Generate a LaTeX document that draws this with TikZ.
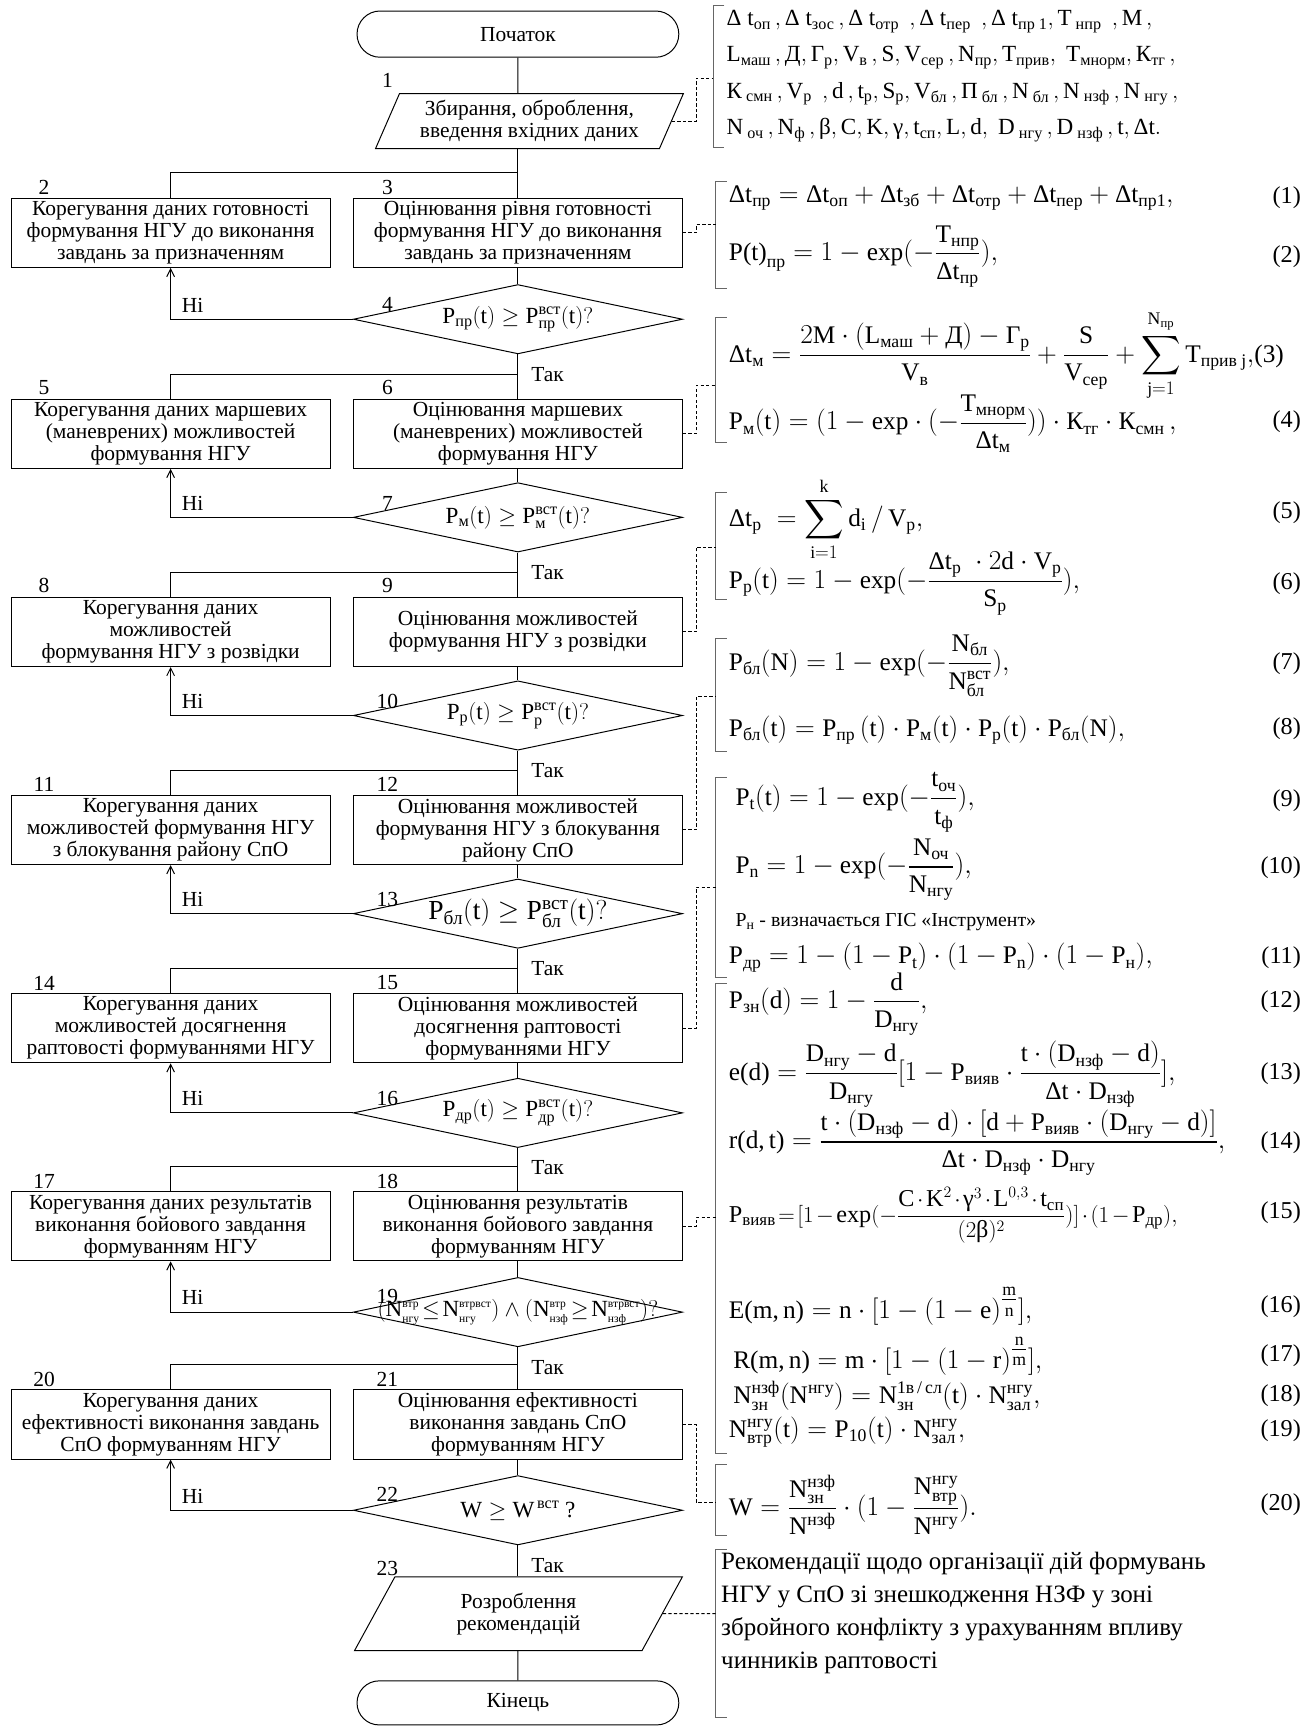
\documentclass[tikz,border=0pt]{standalone}
\usepackage{amsmath}
\usepackage{fontspec}
\setmainfont{Liberation Serif}
\usetikzlibrary{arrows.meta,positioning,calc,shapes.geometric,shapes.misc}
\newcommand{\tm}[1]{\textnormal{#1}}
\newcommand{\sv}[2]{\tm{#1}_{\tm{#2}}}
\newcommand{\ssv}[3]{\tm{#1}^{\tm{#3}}_{\tm{#2}}}
\newcommand{\ssvt}[3]{\tm{#1}^{\scriptscriptstyle\tm{#3}}_{\scriptscriptstyle\tm{#2}}}
\tikzset{
  fcBox/.style={draw, line width=0.9pt, rectangle, minimum width=290pt, minimum height=63pt,
    inner sep=1pt, align=center, font=\fontsize{19.5}{20}\selectfont},
  fcWide/.style={minimum width=299pt},
  fcTerm/.style={draw, line width=0.9pt, rounded rectangle, minimum width=299pt, minimum height=42pt},
  fcIO/.style={draw, line width=0.9pt, trapezium, trapezium left angle=65, trapezium right angle=115,
    trapezium stretches=true, minimum width=280pt, minimum height=50pt, align=center, inner sep=1pt},
  fcDec/.style={draw, line width=0.9pt, diamond, minimum width=299pt, minimum height=63pt, inner sep=0pt},
  fcCond/.style={inner sep=0pt, font=\fontsize{21}{22}\selectfont},
  fcNum/.style={inner sep=0pt},
  fcLbl/.style={inner sep=0pt, anchor=west},
  %% connectors
  fcFlow/.style={line width=0.9pt},
  fcArr/.style={line width=0.9pt, -{Straight Barb[length=7pt,width=7pt]}},
  fcLink/.style={line width=0.9pt, dash pattern=on 3pt off 2pt},
  fcBrk/.style={line width=0.8pt, black!60},
  %% formulas
  fcEq/.style={inner sep=0pt, anchor=west, font=\fontsize{23}{24}\selectfont},
  fcEqNo/.style={inner sep=0pt, anchor=east, font=\fontsize{22}{24}\selectfont},
}
\begin{document}
\begin{tikzpicture}[x=1pt, y=-1pt, font=\fontsize{19.5}{20}\selectfont]
\useasboundingbox (0,0) rectangle (1185,1568);

\node[fcTerm] (start) at (470.5,31) {Початок};
\node[fcIO] (io1) at (481,110) {Збирання, оброблення,\\введення вхідних даних};

\node[fcBox] (l1) at (155,211.5) {Корегування даних готовності\\формування НГУ до виконання\\завдань за призначенням};
\node[fcBox,fcWide] (r1) at (470.5,211.5) {Оцінювання рівня готовності\\формування НГУ до виконання\\завдань за призначенням};
\node[fcDec, label={[fcCond]center:{$\sv{P}{пр}(\tm{t})\geq\ssv{P}{пр}{вст}(\tm{t})?$}}] (d1) at (470.5,290) {};

\node[fcBox] (l2) at (155,394) {Корегування даних маршевих\\(маневрених)  можливостей\\формування НГУ};
\node[fcBox,fcWide] (r2) at (470.5,394) {Оцінювання маршевих\\(маневрених)  можливостей\\формування НГУ};
\node[fcDec, label={[fcCond]center:{$\sv{P}{м}(\tm{t})\geq\ssv{P}{м}{вст}(\tm{t})?$}}] (d2) at (470.5,470) {};

\node[fcBox] (l3) at (155,574) {Корегування даних\\можливостей\\формування НГУ з розвідки};
\node[fcBox,fcWide] (r3) at (470.5,574) {Оцінювання можливостей\\формування НГУ з розвідки};
\node[fcDec, label={[fcCond]center:{$\sv{P}{р}(\tm{t})\geq\ssv{P}{р}{вст}(\tm{t})?$}}] (d3) at (470.5,650) {};

\node[fcBox] (l4) at (155,754) {Корегування даних\\можливостей формування НГУ\\з блокування району СпО};
\node[fcBox,fcWide] (r4) at (470.5,754) {Оцінювання можливостей\\формування НГУ з блокування\\району СпО};
\node[fcDec, label={[fcCond, font=\fontsize{25}{26}\selectfont]center:{$\sv{P}{бл}(\tm{t})\geq\ssv{P}{бл}{вст}(\tm{t})?$}}] (d4) at (470.5,830) {};

\node[fcBox] (l5) at (155,934) {Корегування даних\\можливостей досягнення\\раптовості формуваннями НГУ};
\node[fcBox,fcWide] (r5) at (470.5,934) {Оцінювання можливостей\\досягнення раптовості\\формуваннями НГУ};
\node[fcDec, label={[fcCond]center:{$\sv{P}{др}(\tm{t})\geq\ssv{P}{др}{вст}(\tm{t})?$}}] (d5) at (470.5,1011) {};

\node[fcBox] (l6) at (155,1114) {Корегування даних результатів\\виконання бойового завдання\\формуванням НГУ};
\node[fcBox,fcWide] (r6) at (470.5,1114) {Оцінювання результатів\\виконання бойового завдання\\формуванням НГУ};
\node[fcDec, label={[fcCond, font=\fontsize{21}{22}\selectfont]center:{$(\ssvt{N}{нгу}{втр}\!\leq\!\ssvt{N}{нгу}{втрвст})\wedge(\ssvt{N}{нзф}{втр}\!\geq\!\ssvt{N}{нзф}{втрвст})?$}}] (d6) at (470.5,1192) {};

\node[fcBox] (l7) at (155,1294) {Корегування даних\\ефективності виконання завдань\\СпО формуванням НГУ};
\node[fcBox,fcWide] (r7) at (470.5,1294) {Оцінювання ефективності\\виконання завдань СпО\\формуванням НГУ};
\node[fcDec, label={[fcCond]center:{$\tm{W}\geq\tm{W}^{\,\tm{вст}}$ ?}}] (d7) at (470.5,1372) {};

\node[fcIO, minimum width=298pt, minimum height=67pt] (io23) at (471,1466) {Розроблення\\рекомендацій};
\node[fcTerm, minimum height=40pt] (end) at (470.5,1547) {Кінець};

\foreach \n/\x/\y in {1/352/73, 2/40/170, 3/352/170, 4/352/277, 5/40/352, 6/352/352, 7/352/457,
    8/40/532, 9/352/532, 10/352/637, 11/40/713, 12/352/713, 13/352/817, 14/40/893, 15/352/893,
    16/352/998, 17/40/1073, 18/352/1073, 19/352/1178, 20/40/1253, 21/352/1253, 22/352/1358, 23/352/1425}
  \node[fcNum] (n\n) at (\x,\y) {\n};

%% main flow
\draw[fcFlow] (start) -- (start.south |- io1.north);
\draw[fcFlow] (start.south |- io1.south) -- (r1.north);
\foreach \k/\j in {1/2,2/3,3/4,4/5,5/6,6/7}
  \draw[fcFlow] (d\k.south) -- (r\j.north);
\draw[fcFlow] (d7.south) -- (d7.south |- io23.north);
\draw[fcFlow] (d7.south |- io23.south) -- (end);

\foreach \k/\sy in {1/157,2/340,3/520,4/700,5/880,6/1060,7/1240}{
  \coordinate (s\k) at (470.5,\sy);
  \draw[fcFlow] (l\k.north) |- (s\k);
  \draw[fcFlow] (r\k.south) -- (d\k.north);
  \draw[fcArr] (d\k.west) -| (l\k.south);
  \node[fcLbl] (no\k) at ($(d\k.west -| l\k.south)+(10,-13)$) {Ні};
  \node[fcLbl] (yes\k) at ($(d\k.south)+(12,18)$) {Так};
}

%% brackets
\foreach \t/\b/\x in {5/134/648, 165/262/650, 288/402/650, 447/545/650, 580/683/650,
    706/888/650, 893/1320/650, 1330/1395/650, 1408/1560/650}
  \draw[fcBrk] (\x+10,\t) -- (\x,\t) -- (\x,\b) -- (\x+10,\b);

\coordinate (k0) at (648,71);
\coordinate (k1) at (650,204);
\coordinate (k2) at (650,350);
\coordinate (k3) at (650,497);
\coordinate (k4) at (650,633);
\coordinate (k5) at (650,806);
\coordinate (k6) at (650,1106);
\coordinate (k7) at (650,1365);
\coordinate (k8) at (650,1466);

\draw[fcLink] (io1.east) -- ++(22,0) |- (k0);
\foreach \k in {1,...,7}
  \draw[fcLink] (r\k.east) -- ++(12,0) |- (k\k);
\draw[fcLink] (io23.east) -- (k8);

%% input data
\node[fcEq, align=left, font=\fontsize{21}{33}\selectfont] (data) at (660,69) {%
$\sv{Δ t}{оп}\,,\sv{Δ t}{зос}\,,\sv{Δ t}{отр}\;\,,\sv{Δ t}{пер}\;\,,\sv{Δ t}{пр 1},\sv{T}{ нпр}\;\,,\tm{M}\,,$\\
$\sv{L}{маш}\,,\tm{Д},\sv{Г}{р},\sv{V}{в}\,,\tm{S},\sv{V}{сер}\,,\sv{N}{пр},\sv{T}{прив},\;\sv{T}{мнорм},\sv{К}{тг}\,,$\\
$\sv{К}{ смн}\,,\sv{V}{р}\;\,,\tm{d}\,,\sv{t}{р},\sv{S}{р},\sv{V}{бл}\,,\sv{П}{ бл}\,,\sv{N}{ бл}\,,\sv{N}{ нзф}\,,\sv{N}{ нгу}\,,$\\
$\sv{N}{ оч}\,,\sv{N}{ф}\,,\tm{β},\tm{C},\tm{K},\tm{γ},\sv{t}{сп},\tm{L},\tm{d},\;\sv{D}{ нгу}\,,\sv{D}{ нзф}\,,\tm{t},\tm{Δt}.$};

%% formulas
\node[fcEq] (e1) at (662,180) {$\sv{Δt}{пр}=\sv{Δt}{оп}+\sv{Δt}{зб}+\sv{Δt}{отр}+\sv{Δt}{пер}+\sv{Δt}{пр1},$};
\node[fcEq] (e2) at (662,233) {$\displaystyle\tm{P(t)}_{\tm{пр}}=1-\tm{exp}(-\frac{\sv{T}{нпр}}{\sv{Δt}{пр}}),$};
\node[fcEq] (e3) at (662,323) {$\displaystyle\sv{Δt}{м}=\frac{2\tm{M}\cdot(\sv{L}{маш}+\tm{Д})-\sv{Г}{р}}{\sv{V}{в}}+\frac{\tm{S}}{\sv{V}{сер}}+\sum_{\tm{j}=1}^{\sv{N}{пр}}\sv{T}{прив j},$(3)};
\node[fcEq] (e4) at (662,385) {$\displaystyle\sv{P}{м}(\tm{t})=(1-\tm{exp}\cdot(-\frac{\sv{T}{мнорм}}{\sv{Δt}{м}}))\cdot\sv{К}{тг}\cdot\sv{К}{смн}\,,$};
\node[fcEq] (e5) at (662,472) {$\displaystyle\sv{Δt}{р}\;=\sum_{\tm{i}=1}^{\tm{k}}\sv{d}{i}\,/\,\sv{V}{р},$};
\node[fcEq] (e6) at (662,530) {$\displaystyle\sv{P}{р}(\tm{t})=1-\tm{exp}(-\frac{\sv{Δt}{р}\;\cdot2\tm{d}\cdot\sv{V}{р}}{\sv{S}{р}}),$};
\node[fcEq] (e7) at (662,605) {$\displaystyle\sv{P}{бл}(\tm{N})=1-\tm{exp}(-\frac{\sv{N}{бл}}{\ssv{N}{бл}{вст}}),$};
\node[fcEq] (e8) at (662,663) {$\sv{P}{бл}(\tm{t})=\sv{P}{пр}\,(\tm{t})\cdot\sv{P}{м}(\tm{t})\cdot\sv{P}{р}(\tm{t})\cdot\sv{P}{бл}(\tm{N}),$};
\node[fcEq] (e9) at (668,729) {$\displaystyle\sv{P}{t}(\tm{t})=1-\tm{exp}(-\frac{\sv{t}{оч}}{\sv{t}{ф}}),$};
\node[fcEq] (e10) at (668,790) {$\displaystyle\sv{P}{n}=1-\tm{exp}(-\frac{\sv{N}{оч}}{\sv{N}{нгу}}),$};
\node[fcEq, font=\fontsize{18}{19}\selectfont] (note) at (668,838) {P$_{\tm{н}}$ - визначається ГІС «Інструмент»};
\node[fcEq] (e11) at (662,870) {$\sv{P}{др}=1-(1-\sv{P}{t})\cdot(1-\sv{P}{n})\cdot(1-\sv{P}{н}),$};
\node[fcEq] (e12) at (662,912) {$\displaystyle\sv{P}{зн}(\tm{d})=1-\frac{\tm{d}}{\sv{D}{нгу}},$};
\node[fcEq] (e13) at (662,976) {$\displaystyle\tm{e(d)}=\frac{\sv{D}{нгу}-\tm{d}}{\sv{D}{нгу}}[1-\sv{P}{вияв}\cdot\frac{\tm{t}\cdot(\sv{D}{нзф}-\tm{d})}{\tm{Δt}\cdot\sv{D}{нзф}}],$};
\node[fcEq] (e14) at (662,1038) {$\displaystyle\tm{r(d,\,t)}=\frac{\tm{t}\cdot(\sv{D}{нзф}-\tm{d})\cdot[\tm{d}+\sv{P}{вияв}\cdot(\sv{D}{нгу}-\tm{d})]}{\tm{Δt}\cdot\sv{D}{нзф}\cdot\sv{D}{нгу}},$};
\node[fcEq, font=\fontsize{22}{24}\selectfont] (e15) at (662,1104) {\medmuskip=2mu$\displaystyle\sv{P}{вияв}\!=\![1-\tm{exp}(-\frac{\tm{C}\cdot\tm{K}^2\cdot\tm{γ}^3\cdot\tm{L}^{0,3}\cdot\sv{t}{сп}}{(2\tm{β})^2})]\cdot(1-\sv{P}{др}),$};
\node[fcEq] (e16) at (662,1187) {$\tm{E(m,\,n)}=\tm{n}\cdot[1-(1-\tm{e})^{\textstyle\frac{\tm{m}}{\tm{n}}}],$};
\node[fcEq] (e17) at (666,1232) {$\tm{R(m,\,n)}=\tm{m}\cdot[1-(1-\tm{r})^{\textstyle\frac{\tm{n}}{\tm{m}}}],$};
\node[fcEq] (e18) at (666,1268) {$\ssv{N}{зн}{нзф}(\tm{N}^{\tm{нгу}})=\ssv{N}{зн}{1в\,/\,сл}(\tm{t})\cdot\ssv{N}{зал}{нгу},$};
\node[fcEq] (e19) at (662,1301) {$\ssv{N}{втр}{нгу}(\tm{t})=\sv{P}{10}(\tm{t})\cdot\ssv{N}{зал}{нгу},$};
\node[fcEq] (e20) at (662,1367) {$\displaystyle\tm{W}=\frac{\ssv{N}{зн}{нзф}}{\tm{N}^{\tm{нзф}}}\cdot(1-\frac{\ssv{N}{втр}{нгу}}{\tm{N}^{\tm{нгу}}}).$};

\foreach \q/\y in {1/180, 2/233, 4/383, 5/466, 6/530, 7/603, 8/662, 9/727, 10/788, 11/870,
    12/910, 13/975, 14/1038, 15/1102, 16/1187, 17/1232, 18/1268, 19/1300, 20/1367}
  \node[fcEqNo] (q\q) at (1182,\y) {(\q)};

\node[fcEq, align=left, font=\fontsize{22.7}{30}\selectfont] (rec) at (655,1465) {Рекомендації щодо організації дій формувань\\НГУ у СпО зі знешкодження НЗФ у зоні\\збройного конфлікту з урахуванням впливу\\чинників раптовості};

\end{tikzpicture}
\end{document}
